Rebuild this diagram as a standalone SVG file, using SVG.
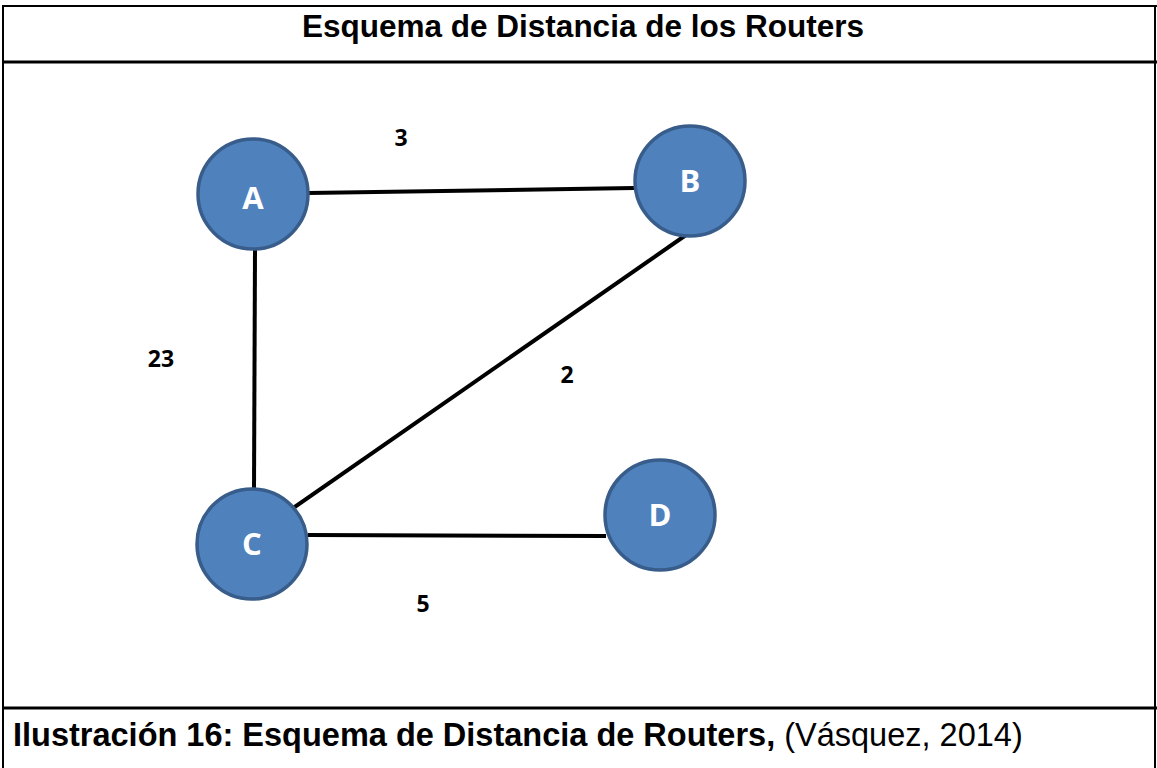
<svg xmlns="http://www.w3.org/2000/svg" width="1157" height="768" viewBox="0 0 1157 768">
<style>
.frame{fill:none;stroke:#000;stroke-width:2}
.edge{stroke:#000;stroke-width:4;fill:none}
.node circle{fill:#4F81BD;stroke:#385D8A;stroke-width:3.5}
.node text{fill:#fff;font-family:"Open Sans","Liberation Sans",sans-serif;font-weight:bold;font-size:31px;text-anchor:middle}
.lbl{font-family:"Open Sans","Liberation Sans",sans-serif;font-weight:bold;font-size:23px;text-anchor:middle;fill:#000}
.title{font-family:"Liberation Sans",Arial,sans-serif;font-weight:bold;fill:#000}
</style>
<rect width="1157" height="768" fill="#fff"/>
<g id="frame">
<line class="frame" x1="2" y1="6" x2="1157" y2="6"/>
<line class="frame" x1="3" y1="6" x2="3" y2="768"/>
<line class="frame" x1="1155" y1="6" x2="1155" y2="768"/>
<line x1="2" y1="62" x2="1157" y2="62" stroke="#000" stroke-width="3"/>
<line x1="2" y1="708" x2="1157" y2="708" stroke="#000" stroke-width="3"/>
</g>
<text class="title" x="583" y="37" font-size="31.5" text-anchor="middle">Esquema de Distancia de los Routers</text>
<g id="connectors">
<line class="edge" x1="308" y1="193" x2="634" y2="188"/>
<line class="edge" x1="255" y1="250" x2="254" y2="489"/>
<line class="edge" x1="686" y1="235" x2="289" y2="511"/>
<line class="edge" x1="308" y1="535" x2="606" y2="536"/>
</g>
<g id="labels">
<text class="lbl" x="401" y="146">3</text>
<text class="lbl" x="161" y="367">23</text>
<text class="lbl" x="567" y="383">2</text>
<text class="lbl" x="423" y="612">5</text>
</g>
<g id="node-A" class="node"><circle cx="253" cy="194" r="55"/><text x="253" y="209">A</text></g>
<g id="node-B" class="node"><circle cx="690" cy="181" r="55"/><text x="690" y="192">B</text></g>
<g id="node-C" class="node"><circle cx="252" cy="544" r="55"/><text x="252" y="555">C</text></g>
<g id="node-D" class="node"><circle cx="660" cy="515" r="55"/><text x="660" y="526">D</text></g>
<text class="title" x="13" y="746" font-size="32.5">Ilustración 16: Esquema de Distancia de Routers,<tspan font-weight="normal"> (Vásquez, 2014)</tspan></text>
</svg>
